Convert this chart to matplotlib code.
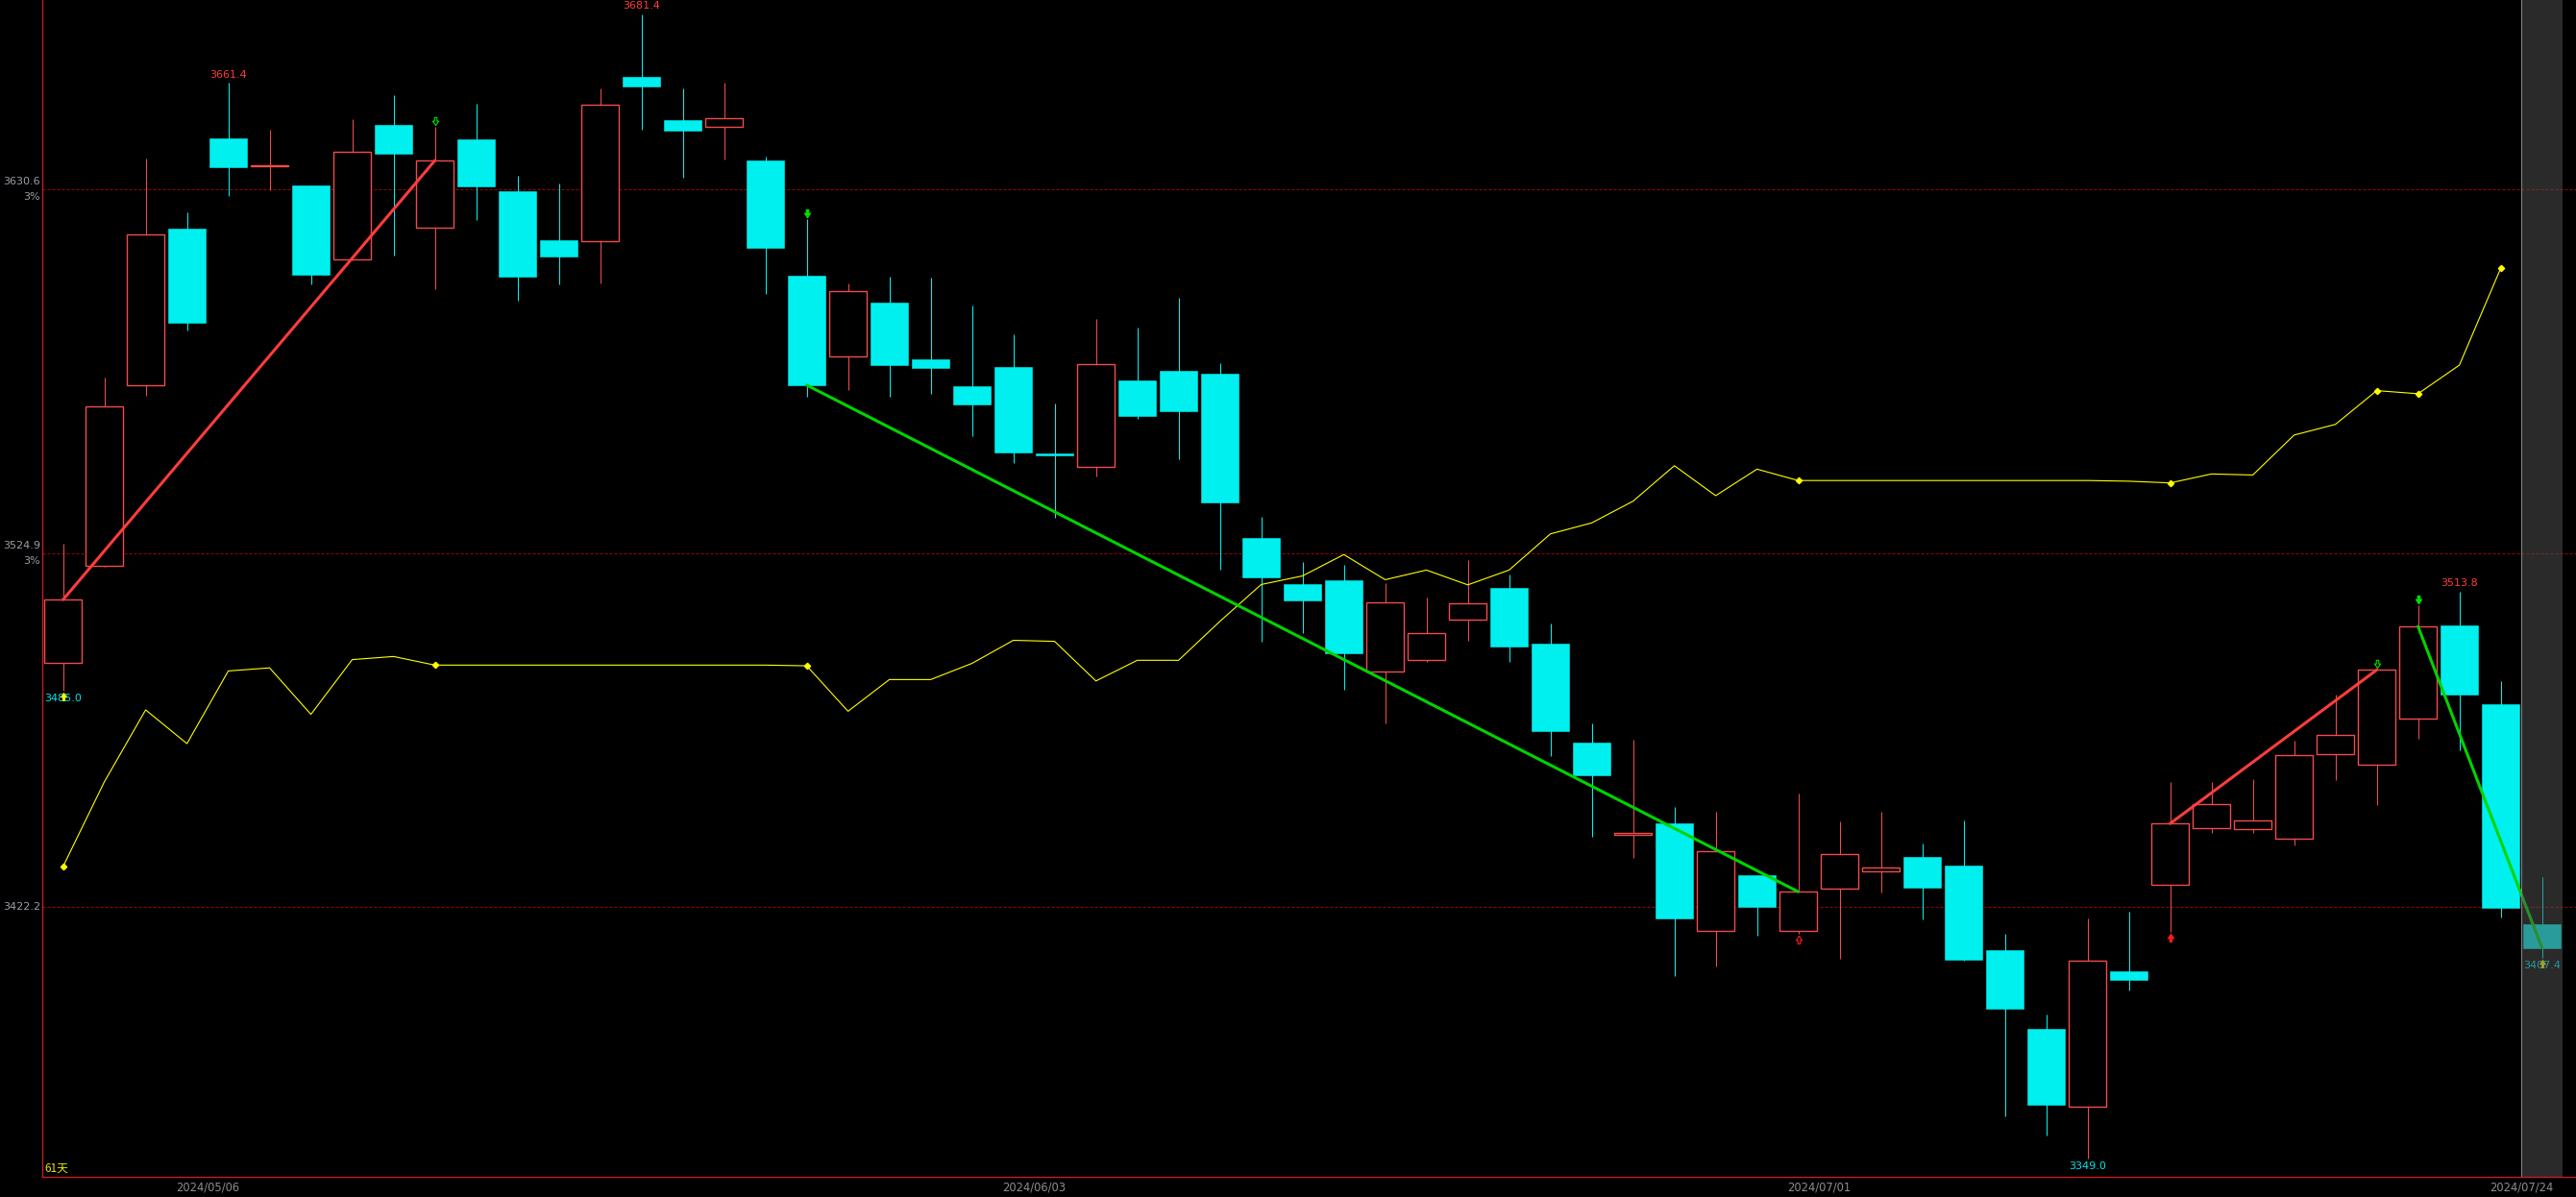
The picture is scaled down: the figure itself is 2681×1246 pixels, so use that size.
import matplotlib
matplotlib.use('Agg')
import matplotlib.pyplot as plt
import numpy as np
from matplotlib.path import Path
from matplotlib.lines import Line2D
from matplotlib.transforms import offset_copy

# daily candles, 61 trading days
opens = [3493.0, 3521.2, 3573.6, 3619.1, 3645.4, 3637.2, 3631.7, 3610.1, 3649.3, 3619.3,
         3645.1, 3630.0, 3615.8, 3615.4, 3663.2, 3650.6, 3648.6, 3638.9, 3605.5, 3581.9,
         3597.7, 3581.2, 3573.4, 3579.0, 3553.9, 3549.9, 3575.1, 3577.8, 3577.0, 3529.3,
         3515.9, 3517.0, 3490.5, 3493.8, 3505.7, 3514.8, 3498.6, 3469.9, 3443.2, 3446.4,
         3415.1, 3431.4, 3415.1, 3427.4, 3432.5, 3436.7, 3434.2, 3409.6, 3386.8, 3364.1,
         3403.5, 3428.5, 3445.0, 3444.7, 3441.9, 3466.5, 3463.6, 3476.8, 3503.9, 3481.1,
         3417.2]
highs = [3527.7, 3575.9, 3639.5, 3623.9, 3661.4, 3647.9, 3631.7, 3650.9, 3657.9, 3648.6,
         3655.4, 3634.5, 3632.2, 3659.9, 3681.4, 3659.9, 3661.5, 3640.0, 3621.9, 3603.2,
         3605.2, 3604.9, 3596.8, 3588.4, 3568.4, 3592.9, 3590.4, 3599.0, 3580.1, 3535.4,
         3522.3, 3521.5, 3516.2, 3512.0, 3522.9, 3518.7, 3504.5, 3475.5, 3470.7, 3451.2,
         3449.8, 3431.4, 3455.1, 3447.0, 3449.8, 3440.6, 3447.3, 3414.4, 3391.0, 3418.9,
         3420.8, 3458.5, 3458.6, 3459.3, 3470.5, 3483.8, 3491.1, 3509.8, 3513.8, 3487.8,
         3430.8]
lows = [3485.0, 3521.0, 3570.7, 3589.6, 3628.7, 3630.4, 3603.0, 3610.0, 3611.4, 3601.6,
        3621.6, 3598.3, 3603.0, 3603.3, 3648.0, 3633.9, 3639.3, 3600.2, 3570.2, 3572.4,
        3570.2, 3571.2, 3559.0, 3551.2, 3535.3, 3547.2, 3564.0, 3552.3, 3520.0, 3499.1,
        3501.6, 3485.3, 3475.6, 3493.2, 3499.5, 3493.4, 3465.9, 3442.6, 3436.3, 3402.2,
        3405.0, 3413.7, 3414.5, 3407.2, 3426.3, 3418.6, 3406.6, 3361.5, 3355.9, 3349.0,
        3397.9, 3414.9, 3443.6, 3443.6, 3440.1, 3459.1, 3451.9, 3471.0, 3467.8, 3419.1,
        3407.4]
closes = [3511.4, 3567.5, 3617.4, 3591.9, 3637.1, 3637.5, 3605.8, 3641.4, 3641.0, 3638.9,
          3631.5, 3605.3, 3611.1, 3655.0, 3660.5, 3647.7, 3651.1, 3613.6, 3573.7, 3600.9,
          3579.6, 3578.8, 3568.2, 3554.2, 3553.4, 3579.7, 3564.7, 3566.2, 3539.7, 3518.0,
          3511.3, 3495.9, 3510.5, 3501.6, 3510.3, 3497.9, 3473.3, 3460.5, 3443.6, 3418.9,
          3438.3, 3422.1, 3426.6, 3437.5, 3433.6, 3427.8, 3406.9, 3392.7, 3364.8, 3406.5,
          3401.1, 3446.4, 3452.0, 3447.2, 3466.2, 3472.0, 3491.0, 3503.6, 3483.9, 3422.0,
          3410.3]

# yellow indicator line (no value on the last day)
signal = [3433.9, 3458.5, 3479.4, 3469.6, 3490.7, 3491.6, 3478.1, 3494.0, 3494.9, 3492.4,
          3492.4, 3492.4, 3492.4, 3492.4, 3492.4, 3492.4, 3492.4, 3492.4, 3492.2, 3479.0,
          3488.2, 3488.2, 3492.9, 3499.6, 3499.3, 3487.8, 3493.8, 3493.8, 3505.1, 3515.8,
          3518.3, 3524.5, 3517.2, 3520.0, 3515.7, 3520.0, 3530.5, 3533.7, 3540.0, 3550.3,
          3541.6, 3549.3, 3546.0, 3546.0, 3546.0, 3546.0, 3546.0, 3546.0, 3546.0, 3546.0,
          3545.8, 3545.3, 3547.9, 3547.6, 3559.2, 3562.3, 3572.1, 3571.2, 3579.5, 3607.6,
          np.nan]
signal_dots = [0, 9, 18, 42, 51, 56, 57, 59]

date_labels = ['2024/05/06', '2024/06/03', '2024/07/01', '2024/07/24']
date_index = [4, 24, 43, 60]

grid_levels = [3630.6, 3524.9, 3422.2]
grid_pct = ['3%', '3%', '']

# trend segments (start, end) drawn between closes
up_trends = [(0, 9), (51, 56)]
down_trends = [(18, 42), (57, 60)]

# signal arrows
top_arrows = [(9, False), (18, True), (56, False), (57, True)]        # green, above highs
bottom_red = [(42, False), (51, True)]                                # red, below lows
bottom_yellow = [0, 60]                                               # yellow, below lows

high_labels = [4, 14, 58]
low_labels = [0, 49, 60]

RED = '#F24B4B'
CYAN = '#00F0F0'
GRAY_TXT = '#9AA0A8'

fig = plt.figure(figsize=(26.81, 12.46), dpi=100, facecolor='black')
ax = fig.add_axes([44 / 2681, 21 / 1246, 1 - 44 / 2681, 1 - 21 / 1246])
ax.set_facecolor('black')

n = len(opens)
x = np.arange(n)
o = np.array(opens)
c = np.array(closes)
up = c >= o
colors = [RED if u else CYAN for u in up]

# wicks
ax.vlines(x, lows, highs, colors=colors, lw=0.75, zorder=3)
# bodies
body_h = np.where(np.abs(c - o) < 0.3, 0.3, c - o)
ax.bar(x, body_h, bottom=o, width=0.9,
       facecolor=['black' if u else CYAN for u in up],
       edgecolor=colors, linewidth=[1.0 if u else 0.4 for u in up], zorder=4)

# grid levels
for lv, pct in zip(grid_levels, grid_pct):
    ax.axhline(lv, color='#A00000', lw=0.75, dashes=(2.9, 1.9), zorder=1)
    if pct:
        ax.annotate(f'{lv:.1f}', xy=(0, lv), xycoords=('axes fraction', 'data'),
                    xytext=(-2, 8), textcoords='offset pixels', ha='right', va='center',
                    color=GRAY_TXT, fontsize=8, annotation_clip=False)
        ax.annotate(pct, xy=(0, lv), xycoords=('axes fraction', 'data'),
                    xytext=(-2, -8), textcoords='offset pixels', ha='right', va='center',
                    color=GRAY_TXT, fontsize=8, annotation_clip=False)
    else:
        ax.annotate(f'{lv:.1f}', xy=(0, lv), xycoords=('axes fraction', 'data'),
                    xytext=(-2, 0), textcoords='offset pixels', ha='right', va='center',
                    color=GRAY_TXT, fontsize=8, annotation_clip=False)

# yellow indicator
ax.plot(x, signal, color='#FFFF00', lw=0.8, zorder=5)
ax.plot(signal_dots, [signal[i] for i in signal_dots], ls='none', marker='D',
        ms=3.2, color='#FFFF00', zorder=5)

# trend lines
for a, b in up_trends:
    ax.plot([a, b], [closes[a], closes[b]], color='#FF3C3C', lw=2.2,
            solid_capstyle='round', zorder=6)
for a, b in down_trends:
    ax.plot([a, b], [closes[a], closes[b]], color='#00D400', lw=2.2,
            solid_capstyle='round', zorder=6)

# arrow markers
down_arrow = Path([(-0.3, 1), (0.3, 1), (0.3, 0.1), (0.75, 0.1), (0, -1),
                   (-0.75, 0.1), (-0.3, 0.1), (-0.3, 1)],
                  [Path.MOVETO] + [Path.LINETO] * 6 + [Path.CLOSEPOLY])
up_arrow = Path([(vx, -vy) for vx, vy in down_arrow.vertices], down_arrow.codes)
above = offset_copy(ax.transData, fig=fig, x=0, y=6, units='dots')
below = offset_copy(ax.transData, fig=fig, x=0, y=-6, units='dots')

for i, filled in top_arrows:
    ax.plot(i, highs[i], marker=down_arrow, ms=6, color='#00E000',
            mfc='#00E000' if filled else 'none', mew=0.8, transform=above, zorder=7)
for i, filled in bottom_red:
    ax.plot(i, lows[i], marker=up_arrow, ms=6, color='#FF1A1A',
            mfc='#FF1A1A' if filled else 'none', mew=0.8, transform=below, zorder=7)

# extreme labels
for i in high_labels:
    ax.annotate(f'{highs[i]:.1f}', xy=(i, highs[i]), xytext=(0, 8.5),
                textcoords='offset pixels', ha='center', va='center',
                color='#FF3C3C', fontsize=8, annotation_clip=False)
for i in low_labels:
    ax.annotate(f'{lows[i]:.1f}', xy=(i, lows[i]), xytext=(0, -8),
                textcoords='offset pixels', ha='center', va='center',
                color='#00E8E8', fontsize=8, zorder=6)

for i in bottom_yellow:
    ax.plot(i, lows[i], marker=up_arrow, ms=6, color='#FFFF00', mew=0.5,
            transform=below, zorder=7)

# last day highlight column
ax.axvspan(n - 1.5, n - 0.5, facecolor='#515151', alpha=0.53, lw=0, zorder=20)
ax.axvline(n - 1.5, color='#808080', lw=0.8, zorder=21)

ax.set_xlim(-0.502, 60.823)
ax.set_ylim(3343.82, 3685.52)

ax.set_xticks([d - 0.5 for d in date_index])
ax.set_xticklabels(date_labels, color='#8E8E8E', fontsize=8.3)
ax.tick_params(axis='x', length=0, pad=3)
ax.set_yticks([])

for side in ['top', 'right']:
    ax.spines[side].set_visible(False)
for side in ['left', 'bottom']:
    ax.spines[side].set_color('#C81E1E')
    ax.spines[side].set_linewidth(1.0)
    ax.spines[side].set_zorder(30)

ax.annotate('61天', xy=(0, 0), xycoords='axes fraction', xytext=(2, 9),
            textcoords='offset pixels', ha='left', va='center', color='#E6E600',
            fontsize=8.5, family=['Noto Sans CJK SC', 'DejaVu Sans'])

fig.add_artist(Line2D([0, 1], [0.0004, 0.0004], color='#444444', lw=0.8))

fig.savefig('out.png', dpi=100, facecolor='black')
